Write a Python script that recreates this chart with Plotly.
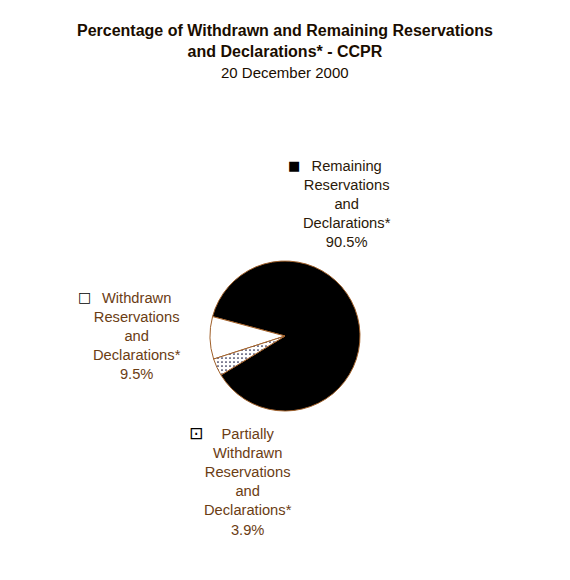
import plotly.graph_objects as go

W, H = 570, 580
PAGE_OFFSET = 8  # default body margin of the html page

# slice data (values as shown on the original chart labels)
slice_names = ['Remaining', 'Withdrawn', 'Partially Withdrawn']
slice_values = [90.5, 9.5, 3.9]
slice_pct_text = ['90.5%', '9.5%', '3.9%']
label_texts = [
    'Remaining<br>Reservations<br>and<br>Declarations*<br>90.5%',
    'Withdrawn<br>Reservations<br>and<br>Declarations*<br>9.5%',
    'Partially<br>Withdrawn<br>Reservations<br>and<br>Declarations*<br>3.9%',
]
key_symbols = ['\u25A0', '\u25A1', '\u22A1']
key_sizes = [13, 14, 17]

slice_colors = ['black', 'white', 'white']
slice_patterns = ['', '', '.']
label_colors = ['#2b1a0a', '#6b3d14', '#6b3d14']

# where each label block sits (pixels: centre x, top y) and its key square
label_pos = [(347, 156), (137, 288), (248, 424)]
key_pos = [(294, 165), (84, 297), (196, 433)]


def px(x):
    return (x - PAGE_OFFSET) / W


def py(y):
    return 1 - (y - PAGE_OFFSET) / H


fig = go.Figure(go.Pie(
    labels=slice_names,
    values=slice_values,
    text=slice_pct_text,
    sort=False,
    direction='counterclockwise',
    rotation=-75,
    textinfo='none',
    hoverinfo='label+text',
    showlegend=False,
    marker=dict(
        colors=slice_colors,
        line=dict(color='#a0602a', width=1),
        pattern=dict(shape=slice_patterns, fgcolor='#1a1a40', bgcolor='white',
                     size=4, solidity=0.15),
    ),
    domain=dict(x=[px(210), px(360)], y=[py(411), py(261)]),
))

annotations = []
for txt, col, (cx, ty) in zip(label_texts, label_colors, label_pos):
    annotations.append(dict(
        text=txt, x=px(cx), y=py(ty), xref='paper', yref='paper',
        xanchor='center', yanchor='top', showarrow=False, align='center',
        font=dict(family='Liberation Sans, Arial, sans-serif', size=14.7, color=col),
    ))
for sym, sz, (kx, ky) in zip(key_symbols, key_sizes, key_pos):
    annotations.append(dict(
        text=sym, x=px(kx), y=py(ky), xref='paper', yref='paper',
        xanchor='center', yanchor='middle', showarrow=False,
        font=dict(family='DejaVu Sans, sans-serif', size=sz, color='black'),
    ))

annotations.append(dict(
    text='<b>Percentage of Withdrawn and Remaining Reservations<br>and Declarations* - CCPR</b>',
    x=px(285), y=py(20), xref='paper', yref='paper', xanchor='center', yanchor='top',
    showarrow=False, align='center',
    font=dict(family='Liberation Sans, Arial, sans-serif', size=16, color='#1a0d00'),
))
annotations.append(dict(
    text='20 December 2000', x=px(285), y=py(73), xref='paper', yref='paper',
    xanchor='center', yanchor='middle', showarrow=False,
    font=dict(family='Liberation Sans, Arial, sans-serif', size=15, color='#1a0d00'),
))

fig.update_layout(
    width=W, height=H,
    margin=dict(l=0, r=0, t=0, b=0),
    paper_bgcolor='white', plot_bgcolor='white',
    annotations=annotations,
)

fig.write_html("out.html")
